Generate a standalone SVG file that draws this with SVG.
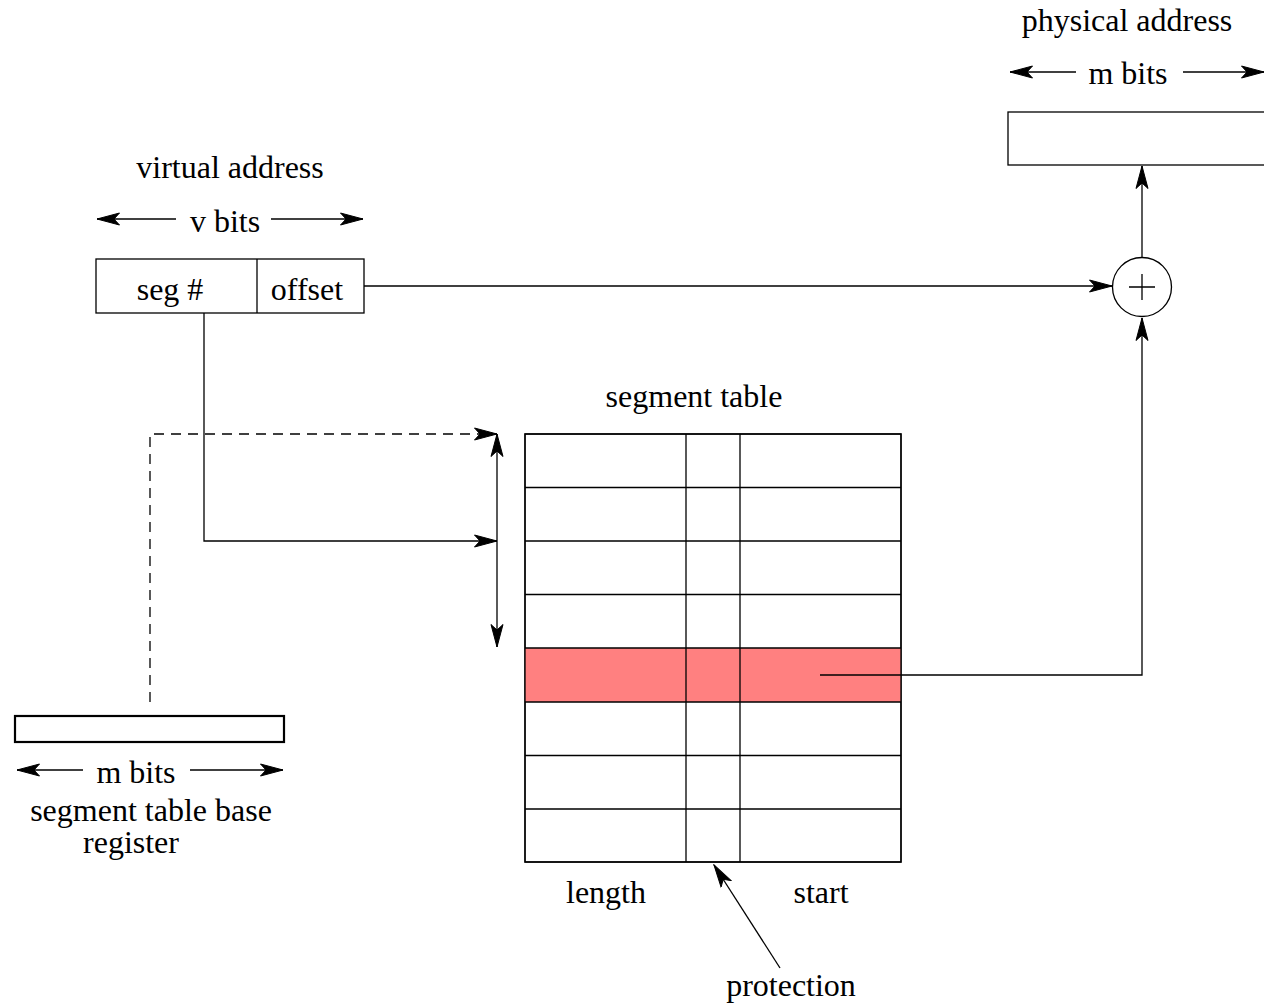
<svg xmlns="http://www.w3.org/2000/svg" width="1264" height="1003" viewBox="0 0 1264 1003">
<style>
text{font-family:"Liberation Serif","Times New Roman",serif;font-size:32px;fill:#000;text-anchor:middle}
.box{fill:#fff;stroke:#000;stroke-width:1.3}
.ln{fill:none;stroke:#000;stroke-width:1.3}
.arr{marker-end:url(#ah)}
</style>
<defs>
<marker id="ah" markerUnits="userSpaceOnUse" viewBox="0 0 24 14" markerWidth="24" markerHeight="14" refX="23" refY="7" orient="auto">
<path d="M23,7 L0.5,1 L6,7 L0.5,13 Z" fill="#000" stroke="#000" stroke-width="1"/>
</marker>
</defs>
<rect width="1264" height="1003" fill="#fff"/>

<g id="physical-address">
<text x="1127" y="31">physical address</text>
<text x="1128" y="84">m bits</text>
<rect class="box" x="1008" y="112" width="270" height="53"/>
</g>

<g id="adder">
<circle cx="1142" cy="287" r="29.5" class="box"/>
<path class="ln" d="M1129,287 H1155 M1142,274 V300"/>
</g>

<g id="virtual-address">
<text x="230" y="178">virtual address</text>
<text x="225" y="232">v bits</text>
<rect class="box" x="96" y="259" width="268" height="54"/>
<line class="ln" x1="257" y1="259" x2="257" y2="313"/>
<text x="170" y="300">seg #</text>
<text x="307" y="300">offset</text>
</g>

<g id="segment-table">
<text x="694" y="407">segment table</text>
<rect class="box" x="525" y="434" width="376" height="428"/>
<rect x="525" y="648" width="376" height="54" fill="#ff8080"/>
<path class="ln" d="M525,434 H901 V862 H525 Z M525,487.5 H901 M525,541 H901 M525,594.5 H901 M525,648 H901 M525,702 H901 M525,755.5 H901 M525,809 H901 M686,434 V862 M740,434 V862"/>
<text x="606" y="903">length</text>
<text x="821" y="903">start</text>
<text x="791" y="996">protection</text>
</g>

<g id="base-register">
<rect x="15" y="716" width="269" height="26" fill="#fff" stroke="#000" stroke-width="2.2"/>
<text x="136" y="783">m bits</text>
<text x="151" y="821">segment table base</text>
<text x="131" y="853">register</text>
</g>

<g id="connectors">
<line class="ln arr" x1="1076" y1="72" x2="1010" y2="72"/>
<line class="ln arr" x1="1183" y1="72" x2="1264" y2="72"/>
<line class="ln arr" x1="176" y1="219" x2="97" y2="219"/>
<line class="ln arr" x1="271" y1="219" x2="363" y2="219"/>
<line class="ln arr" x1="83" y1="770" x2="17" y2="770"/>
<line class="ln arr" x1="190" y1="770" x2="283" y2="770"/>
<line class="ln arr" x1="364" y1="286" x2="1112" y2="286"/>
<line class="ln arr" x1="1142" y1="257" x2="1142" y2="166"/>
<polyline class="ln arr" points="820,675 1142,675 1142,318"/>
<polyline class="ln arr" points="204,313 204,541 497,541"/>
<polyline class="ln arr" stroke-dasharray="10,7" points="150,702 150,434 497,434"/>
<line class="ln arr" x1="497" y1="540" x2="497" y2="434"/>
<line class="ln arr" x1="497" y1="540" x2="497" y2="647"/>
<line class="ln arr" x1="780" y1="968" x2="714" y2="865"/>
</g>
</svg>
